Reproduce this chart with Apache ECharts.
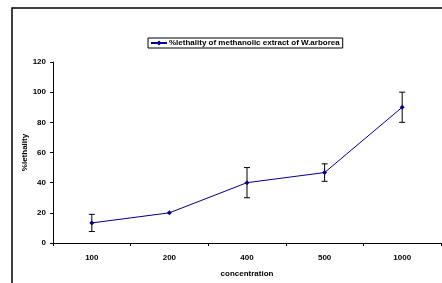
<!DOCTYPE html>
<html>
<head>
<meta charset="utf-8">
<script src="https://cdn.jsdelivr.net/npm/echarts@6/dist/echarts.min.js"></script>
<style>
html, body { margin: 0; padding: 0; background: #fff; }
#content { width: 442px; height: 283px; }
</style>
</head>
<body>
<div id="content"></div>
<script>
// 数据
var concentrations = ['100', '200', '400', '500', '1000'];
var lethality = [13.3, 20, 40, 46.7, 90];
var errors = [5.7, 0, 10, 5.8, 10];
var yTicks = [0, 20, 40, 60, 80, 100, 120];

var font = 'Liberation Sans, Arial, sans-serif';

var errData = concentrations.map(function (c, i) {
    return [i, lethality[i] - errors[i], lethality[i] + errors[i]];
});

var option = {
    backgroundColor: '#fff',
    animation: false,
    graphic: [{
        type: 'rect',
        shape: { x: 12, y: 8, width: 440, height: 290 },
        style: { fill: 'none', stroke: '#000', lineWidth: 1.5 },
        silent: true
    }],
    legend: {
        top: 38,
        left: 148,
        data: ['%lethality of methanolic extract of W.arborea'],
        borderColor: '#000',
        borderWidth: 1,
        padding: [1, 3, 1, 2],
        itemWidth: 16,
        itemHeight: 6,
        itemGap: 2,
        textStyle: { fontFamily: font, fontSize: 8, fontWeight: 'bold', color: '#000', padding: [0, 0, 0, -3] }
    },
    grid: { left: 53, right: 1, top: 62, bottom: 39.5 },
    xAxis: {
        type: 'category',
        data: concentrations,
        boundaryGap: true,
        name: 'concentration',
        nameLocation: 'middle',
        nameGap: 27,
        nameMoveOverlap: false,
        nameTextStyle: { fontFamily: font, fontSize: 8, fontWeight: 'bold', color: '#000' },
        axisLine: { lineStyle: { color: '#000', width: 1 } },
        axisTick: { show: true, length: 3, lineStyle: { color: '#000' } },
        axisLabel: { fontFamily: font, fontSize: 8, fontWeight: 'bold', color: '#000', margin: 11 }
    },
    yAxis: {
        type: 'value',
        min: 0,
        max: 120,
        interval: 20,
        name: '%lethality',
        nameLocation: 'middle',
        nameGap: 24,
        nameMoveOverlap: false,
        nameTextStyle: { fontFamily: font, fontSize: 8, fontWeight: 'bold', color: '#000' },
        axisLine: { show: true, lineStyle: { color: '#000', width: 1 } },
        axisTick: { show: true, length: 3, lineStyle: { color: '#000' } },
        splitLine: { show: false },
        axisLabel: {
            fontFamily: font, fontSize: 8, fontWeight: 'bold', color: '#000', margin: 7,
            formatter: function (v) { return yTicks.indexOf(v) >= 0 ? v : ''; }
        }
    },
    series: [{
        name: '%lethality of methanolic extract of W.arborea',
        type: 'line',
        data: lethality,
        symbol: 'diamond',
        symbolSize: 5,
        lineStyle: { color: '#00008b', width: 1 },
        itemStyle: { color: '#00008b' },
        z: 3
    }, {
        type: 'custom',
        data: errData,
        z: 2,
        renderItem: function (params, api) {
            var i = api.value(0);
            var lo = api.coord([i, api.value(1)]);
            var hi = api.coord([i, api.value(2)]);
            if (hi[1] === lo[1]) return null;
            var w = 3;
            var st = { stroke: '#000', lineWidth: 1 };
            return {
                type: 'group',
                children: [
                    { type: 'line', shape: { x1: lo[0], y1: lo[1], x2: hi[0], y2: hi[1] }, style: st },
                    { type: 'line', shape: { x1: lo[0] - w, y1: lo[1], x2: lo[0] + w, y2: lo[1] }, style: st },
                    { type: 'line', shape: { x1: hi[0] - w, y1: hi[1], x2: hi[0] + w, y2: hi[1] }, style: st }
                ]
            };
        }
    }]
};

var myChart = echarts.init(document.getElementById('content'));
myChart.setOption(option);
</script>
</body>
</html>
